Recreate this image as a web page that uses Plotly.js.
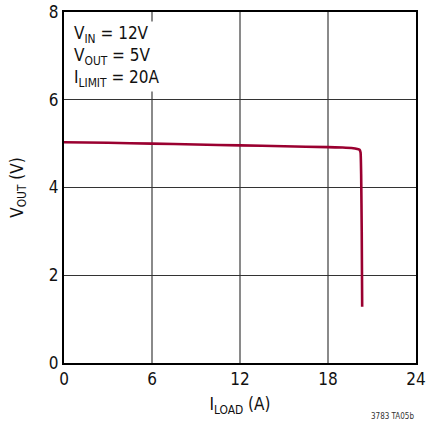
<!DOCTYPE html>
<html><head><meta charset="utf-8">
<script src="https://cdn.plot.ly/plotly-3.0.1.min.js"></script>
<style>body{margin:0;background:#fff}#c{width:426px;height:425px}</style>
</head><body><div id="c"></div>
<script>
var iLoad = [0, 3, 6, 9, 12, 15, 18, 19, 19.6, 20.0, 20.15, 20.22, 20.26, 20.3, 20.33];
var vOut  = [5.03, 5.02, 5.0, 4.98, 4.96, 4.94, 4.92, 4.91, 4.9, 4.88, 4.86, 4.8, 4.3, 3.0, 1.28];
var xTicks = [0, 6, 12, 18, 24];
var yTicks = [0, 2, 4, 6, 8];
var F = "DejaVu Sans Condensed, Liberation Sans Narrow, Arial Narrow, sans-serif";
var traces = [{x: iLoad, y: vOut, mode: 'lines', line: {color: '#9a0030', width: 2.6, shape: 'spline', smoothing: 0.4}, hoverinfo: 'skip'}];
var layout = {
  width: 426, height: 425,
  margin: {l: 63.5, r: 10, t: 11.5, b: 62},
  paper_bgcolor: '#fff', plot_bgcolor: '#fff',
  showlegend: false,
  font: {family: F, size: 17, color: '#111'},
  xaxis: {range: [0, 24], tickvals: xTicks, ticktext: xTicks.map(String), showgrid: true, gridcolor: '#8a8a8a', gridwidth: 1.2,
    zeroline: false, showline: true, linecolor: '#000', linewidth: 2, mirror: true, ticks: '', ticklen: 0,
    tickfont: {family: F, size: 17, color: '#111'},
    title: {text: 'I<sub>LOAD</sub> (A)', font: {family: F, size: 17, color: '#111'}, standoff: 10}},
  yaxis: {range: [0, 8], tickvals: yTicks, ticktext: yTicks.map(String), showgrid: true, gridcolor: '#333', gridwidth: 1.2,
    zeroline: false, showline: true, linecolor: '#000', linewidth: 2, mirror: true, ticks: '', ticklen: 0,
    tickfont: {family: F, size: 17, color: '#111'},
    title: {text: 'V<sub>OUT</sub> (V)', font: {family: F, size: 17, color: '#111'}, standoff: 21}},
  annotations: [
    {xref: 'paper', yref: 'paper', x: 0.022, y: 0.975, xanchor: 'left', yanchor: 'top', align: 'left', showarrow: false,
     text: 'V<sub>IN</sub> = 12V<br>V<sub>OUT</sub> = 5V<br>I<sub>LIMIT</sub> = 20A', font: {family: F, size: 17, color: '#111'}, bgcolor: '#fff'},
    {xref: 'paper', yref: 'paper', x: 1.0, y: -0.135, xanchor: 'right', yanchor: 'top', showarrow: false,
     text: '3783 TA05b', font: {family: F, size: 8, color: '#333'}}
  ]
};
Plotly.newPlot('c', traces, layout, {displayModeBar: false, staticPlot: true});
</script></body></html>
